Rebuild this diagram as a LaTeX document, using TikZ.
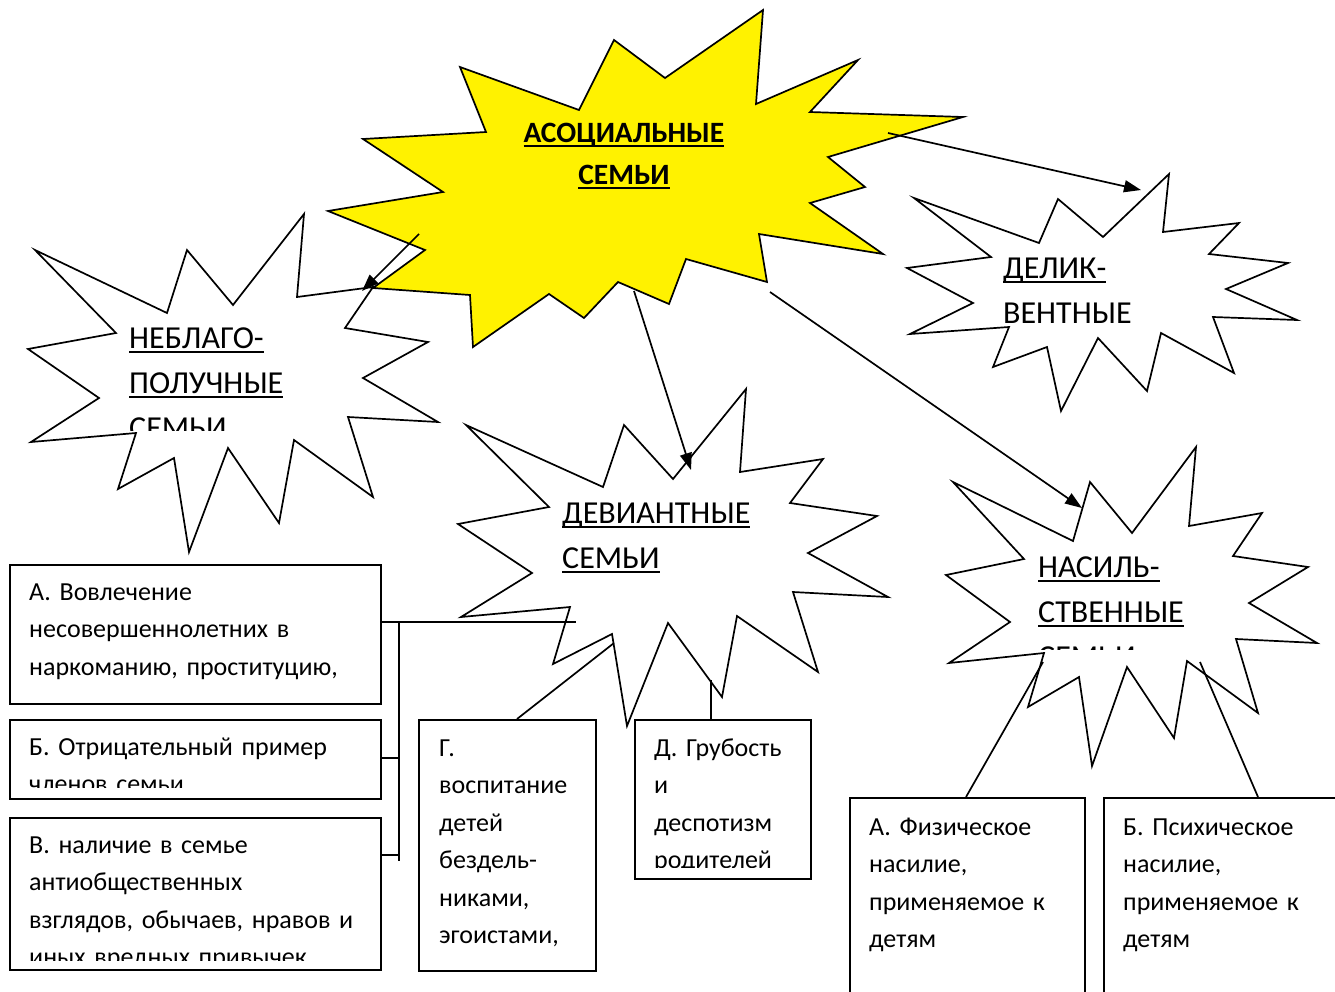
\documentclass[tikz,border=0pt]{standalone}
\usepackage{fontspec}
\setmainfont{Carlito}
\usetikzlibrary{arrows.meta}
\newcommand\myul[1]{\setbox0\hbox{#1}\leavevmode\rlap{\rule[-5pt]{\wd0}{2.3pt}}\box0}
\tikzset{
  star/.style={draw=black, line width=1.7pt, fill=white, line join=miter},
  ystar/.style={star, fill=yellow},
  box/.style={draw=black, line width=1.7pt, anchor=north west, inner sep=0pt},
  lbl/.style={anchor=base west, inner sep=0pt, align=left, text width=420pt},
  clbl/.style={anchor=base, inner sep=0pt, align=center, text width=320pt},
  big/.style={font=\fontsize{32}{45}\selectfont},
  bigb/.style={font=\bfseries\fontsize{29.5}{42}\selectfont},
  body/.style={font=\fontsize{26}{37.5}\selectfont},
  conn/.style={line width=1.7pt},
  arr/.style={line width=1.7pt, -{Triangle[length=17pt,width=12pt]}}
}
\begin{document}
\begin{tikzpicture}[x=1pt,y=-1pt]
\useasboundingbox (0,0) rectangle (1335,991);
\clip (0,0) rectangle (1335,991);
\fill[white] (0,0) rectangle (1335,991);

% stars
\draw[star] (304,214) -- (297,297) -- (373,287) -- (345,328) -- (428,342) -- (363,378) -- (438,422) -- (348,417) -- (373,497) -- (294,440) -- (279,523) -- (228,448) -- (189,552) -- (174,458) -- (118,489) -- (136,433) -- (31,442) -- (99,398) -- (28,349) -- (116,333) -- (35,250) -- (167,313) -- (187,250) -- (233,305) -- cycle;
\draw[ystar] (763,10) -- (756,104) -- (858,60) -- (810,112) -- (963,117) -- (828,157) -- (865,187) -- (810,203) -- (883,254) -- (759,234) -- (767,282) -- (686,259) -- (669,304) -- (618,282) -- (584,318) -- (549,294) -- (473,347) -- (470,295) -- (373,288) -- (425,250) -- (328,211) -- (443,192) -- (363,139) -- (486,132) -- (460,67) -- (579,110) -- (614,40) -- (665,78) -- cycle;
\draw[star] (746,389) -- (740,472) -- (823,459) -- (790,503) -- (877,516) -- (808,553) -- (888,597) -- (793,592) -- (818,672) -- (737,616) -- (722,697) -- (668,623) -- (627,726) -- (612,634) -- (553,664) -- (570,607) -- (461,617) -- (532,573) -- (458,524) -- (549,507) -- (466,425) -- (603,487) -- (624,425) -- (673,479) -- cycle;
\draw[star] (1169,174) -- (1163,232) -- (1239,223) -- (1209,254) -- (1288,263) -- (1226,289) -- (1297,320) -- (1213,317) -- (1234,373) -- (1161,333) -- (1147,391) -- (1098,338) -- (1061,411) -- (1047,347) -- (993,367) -- (1009,327) -- (910,334) -- (973,303) -- (907,268) -- (991,257) -- (914,198) -- (1039,243) -- (1058,199) -- (1103,237) -- cycle;
\draw[star] (1196,447) -- (1189,526) -- (1262,513) -- (1233,556) -- (1308,567) -- (1249,603) -- (1317,643) -- (1236,639) -- (1258,713) -- (1187,661) -- (1174,738) -- (1127,667) -- (1092,766) -- (1079,677) -- (1028,707) -- (1044,653) -- (949,663) -- (1010,622) -- (946,575) -- (1024,559) -- (953,482) -- (1073,541) -- (1090,482) -- (1132,533) -- cycle;

% star labels
\node[clbl, bigb] (asoc) at (624,142) {\myul{АСОЦИАЛЬНЫЕ}\\\myul{СЕМЬИ}};
\begin{scope}
\clip (100,300) rectangle (330,430);
\node[lbl, big] (nebl) at (129,348) {\myul{НЕБЛАГО-}\\\myul{ПОЛУЧНЫЕ}\\СЕМЬИ};
\end{scope}
\node[lbl, big] (devi) at (562,523) {\myul{ДЕВИАНТНЫЕ}\\\myul{СЕМЬИ}};
\node[lbl, big] (deli) at (1003,278) {\myul{ДЕЛИК-}\\ВЕНТНЫЕ};
\begin{scope}
\clip (1000,530) rectangle (1230,649);
\node[lbl, big] (nasi) at (1038,577) {\myul{НАСИЛЬ-}\\\myul{СТВЕННЫЕ}\\СЕМЬИ};
\end{scope}

% boxes
\node[box, minimum width=371pt, minimum height=139pt] (bA) at (9,564) {};
\node[box, minimum width=371pt, minimum height=79pt] (bB) at (9,719) {};
\node[box, minimum width=371pt, minimum height=152pt] (bC) at (9,817) {};
\node[box, minimum width=177pt, minimum height=251pt] (bG) at (418,719) {};
\node[box, minimum width=176pt, minimum height=159pt] (bD) at (634,719) {};
\node[box, minimum width=235pt, minimum height=220pt] (bF) at (849,797) {};
\node[box, minimum width=250pt, minimum height=220pt] (bP) at (1103,797) {};

% box texts
\node[lbl, body] (tA) at (29,600) {А. Вовлечение\\несовершеннолетних в\\наркоманию, проституцию,};
\begin{scope}
\clip (20,725) rectangle (370,787);
\node[lbl, body] (tB) at (29,755) {Б. Отрицательный пример\\членов семьи};
\end{scope}
\begin{scope}
\clip (20,822) rectangle (370,960);
\node[lbl, body] (tC) at (29,853) {В. наличие в семье\\антиобщественных\\взглядов, обычаев, нравов и\\иных вредных привычек};
\end{scope}
\node[lbl, body] (tG) at (439,756) {Г.\\воспитание\\детей\\бездель-\\никами,\\эгоистами,};
\begin{scope}
\clip (640,725) rectangle (805,867);
\node[lbl, body] (tD) at (654,756) {Д. Грубость\\и\\деспотизм\\родителей};
\end{scope}
\node[lbl, body] (tF) at (869,835) {А. Физическое\\насилие,\\применяемое к\\детям};
\node[lbl, body] (tP) at (1123,835) {Б. Психическое\\насилие,\\применяемое к\\детям};

% arrows from the yellow star
\coordinate (s1) at (419,234); \coordinate (e1) at (362,291);
\coordinate (s2) at (634,291); \coordinate (e2) at (691,470);
\coordinate (s3) at (888,133); \coordinate (e3) at (1141,190);
\coordinate (s4) at (770,292); \coordinate (e4) at (1082,508);
\draw[arr] (s1) -- (e1);
\draw[arr] (s2) -- (e2);
\draw[arr] (s3) -- (e3);
\draw[arr] (s4) -- (e4);

% connectors of the boxes
\coordinate (dvL) at (576,622);
\coordinate (trT) at (399,622);
\coordinate (trB) at (399,861);
\coordinate (tkB) at (399,758);
\coordinate (tkC) at (399,855);
\draw[conn] (bA.east |- dvL) -- (dvL);
\draw[conn] (trT) -- (trB);
\draw[conn] (tkB -| bB.east) -- (tkB);
\draw[conn] (tkC -| bC.east) -- (tkC);
\coordinate (dvG) at (614,643);
\path (bG.north west) ++(99,0) coordinate (gTop);
\draw[conn] (gTop) -- (dvG);
\coordinate (dvD) at (711,680);
\draw[conn] (dvD |- bD.north) -- (dvD);
\coordinate (vsF) at (1043,662);
\coordinate (vsP) at (1200,662);
\path (bF.north west) ++(117,0) coordinate (fTop);
\draw[conn] (fTop) -- (vsF);
\path (bP.north west) ++(155,0) coordinate (pTop);
\draw[conn] (pTop) -- (vsP);
\end{tikzpicture}
\end{document}
